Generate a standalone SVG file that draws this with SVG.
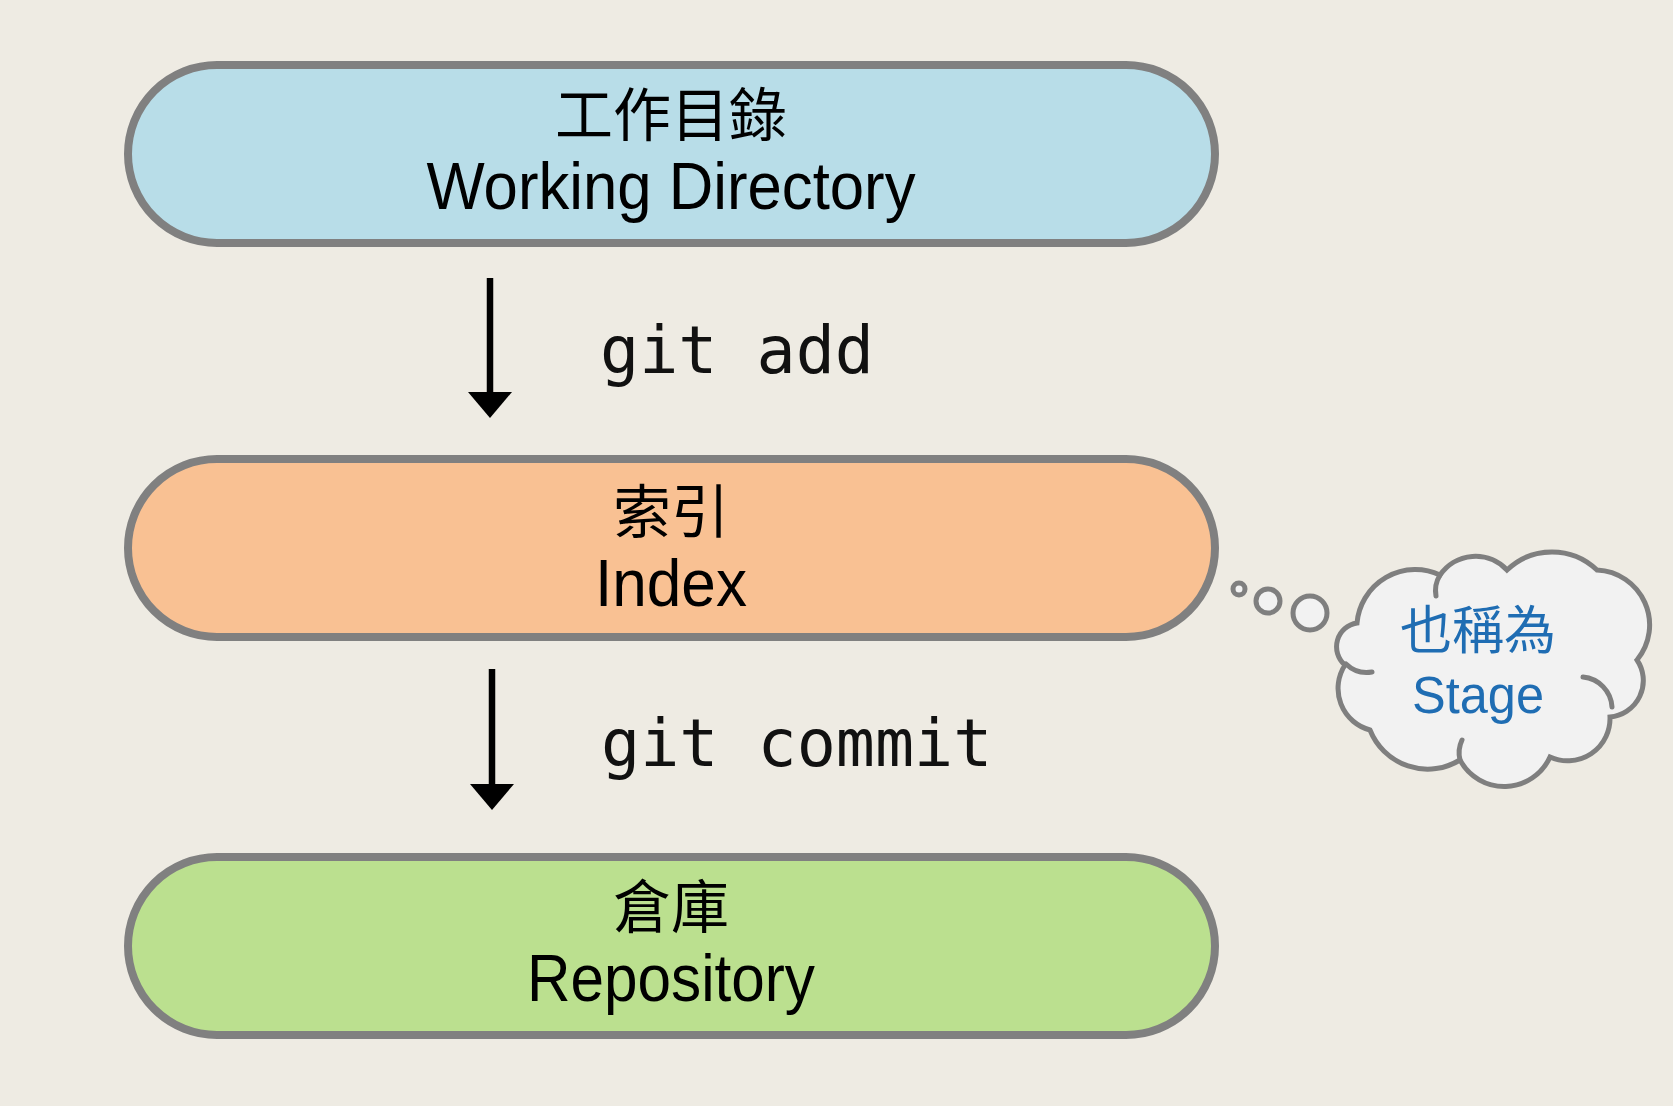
<svg xmlns="http://www.w3.org/2000/svg" width="1673" height="1106" viewBox="0 0 1673 1106">
  <defs>
    <style>
      .pill { stroke: #808080; stroke-width: 8; }
      .cjk { font-family: "Noto Sans CJK TC", "Noto Sans CJK SC", sans-serif; font-size: 58px; fill: #000; text-anchor: middle; }
      .lat { font-family: "Liberation Sans", Arial, sans-serif; font-size: 66px; fill: #000; text-anchor: middle; }
      .cmd { font-family: "DejaVu Sans Mono", monospace; font-size: 65px; fill: #111; }
      .cloud { fill: #f2f2f2; stroke: #7f7f7f; stroke-width: 5; }
      .bubble { fill: #f2f2f2; stroke: #7f7f7f; stroke-width: 5; }
      .curl { fill: none; stroke: #7f7f7f; stroke-width: 5; stroke-linecap: round; }
      .cloudtxt { fill: #1f6db3; text-anchor: middle; }
    </style>
  </defs>
  <rect width="1673" height="1106" fill="#eeebe3"/>

  <g id="working-directory">
    <rect class="pill" x="128" y="65" width="1087" height="178" rx="89" fill="#b8dde8"/>
    <text class="cjk" x="671" y="136">工作目錄</text>
    <text class="lat" x="671" y="209" textLength="489" lengthAdjust="spacingAndGlyphs">Working Directory</text>
  </g>

  <g id="index">
    <rect class="pill" x="128" y="459" width="1087" height="178" rx="89" fill="#f9c193"/>
    <text class="cjk" x="671" y="533">索引</text>
    <text class="lat" x="671" y="606" textLength="152" lengthAdjust="spacingAndGlyphs">Index</text>
  </g>

  <g id="repository">
    <rect class="pill" x="128" y="857" width="1087" height="178" rx="89" fill="#bbe08f"/>
    <text class="cjk" x="671" y="928">倉庫</text>
    <text class="lat" x="671" y="1001" textLength="288" lengthAdjust="spacingAndGlyphs">Repository</text>
  </g>

  <g id="connectors">
    <g id="edge-add">
      <line x1="490" y1="278" x2="490" y2="394" stroke="#000" stroke-width="6.5"/>
      <path d="M468,392 L512,392 L490,418 Z" fill="#000"/>
      <text class="cmd" x="600" y="373">git add</text>
    </g>
    <g id="edge-commit">
      <line x1="492" y1="669" x2="492" y2="786" stroke="#000" stroke-width="6.5"/>
      <path d="M470,784 L514,784 L492,810 Z" fill="#000"/>
      <text class="cmd" x="601" y="766">git commit</text>
    </g>
  </g>

  <g id="stage-note">
    <circle class="bubble" cx="1239" cy="589" r="6"/>
    <circle class="bubble" cx="1268" cy="601" r="12"/>
    <circle class="bubble" cx="1310" cy="613" r="17"/>
    <path class="cloud" d="M1357,623 A58.6,58.6 0 0 1 1440,575 A43,43 0 0 1 1507,570 A65,65 0 0 1 1597,570 A55,55 0 0 1 1637,660 A36.6,36.6 0 0 1 1610,717 A42.4,42.4 0 0 1 1550,757 A50.2,50.2 0 0 1 1460,760 A62,62 0 0 1 1370,730 A43,43 0 0 1 1345,665 A24,24 0 0 1 1357,623 Z"/>
    <path class="curl" d="M1583,677 A32,32 0 0 1 1612,707"/>
    <path class="curl" d="M1346,664 A30,30 0 0 0 1372,672"/>
    <path class="curl" d="M1440,575 A30,30 0 0 0 1436,596"/>
    <path class="curl" d="M1460,760 A30,30 0 0 1 1462,740"/>
    <text class="cloudtxt" x="1478" y="649" font-family="Noto Sans CJK TC, Noto Sans CJK SC, sans-serif" font-size="52">也稱為</text>
    <text class="cloudtxt" x="1478" y="713" font-family="Liberation Sans, Arial, sans-serif" font-size="51" textLength="132" lengthAdjust="spacingAndGlyphs">Stage</text>
  </g>
</svg>
